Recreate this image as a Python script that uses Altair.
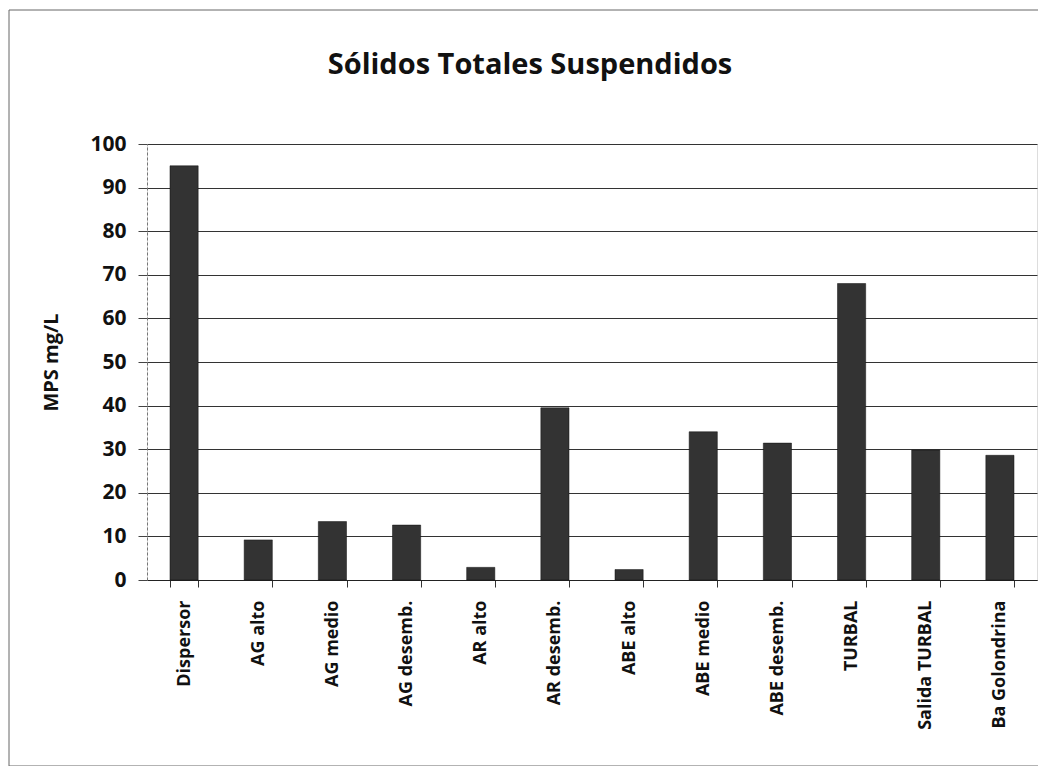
import altair as alt
import pandas as pd

categories = ["Dispersor", "AG alto", "AG medio", "AG desemb.", "AR alto", "AR desemb.",
              "ABE alto", "ABE medio", "ABE desemb.", "TURBAL", "Salida TURBAL", "Ba Golondrina"]
values = [95, 9.2, 13.4, 12.6, 2.9, 39.5, 2.4, 34, 31.4, 68, 29.8, 28.6]
y_ticks = [0, 10, 20, 30, 40, 50, 60, 70, 80, 90, 100]
title_text = ["Sólidos Totales Suspendidos"]

df = pd.DataFrame({"cat": categories, "val": values})
tdf = pd.DataFrame({"t": title_text})

FONT = "Open Sans"
W, H = 890, 436

bars = alt.Chart(df).mark_bar(color="#333333", stroke="#111111", strokeWidth=0.5).encode(
    x=alt.X("cat:N", sort=categories,
            scale=alt.Scale(paddingInner=0.62, paddingOuter=0.31),
            axis=alt.Axis(title=None, labelAngle=-90, labelAlign="right", labelBaseline="middle",
                          labelFont=FONT, labelFontSize=18, labelFontWeight="bold", labelColor="#111",
                          labelPadding=13, tickBand="extent", tickSize=7, tickColor="#333",
                          domainColor="#222", domainWidth=1.2, grid=False)),
    y=alt.Y("val:Q", scale=alt.Scale(domain=[0, 100], nice=False),
            axis=alt.Axis(title="MPS mg/L", values=y_ticks, titleFont=FONT, titleFontSize=20,
                          titleFontWeight="bold", titleColor="#111", titlePadding=28,
                          labelFont=FONT, labelFontSize=21, labelFontWeight="bold", labelColor="#111",
                          labelPadding=12, tickSize=9, tickColor="#444", domainColor="#777",
                          domainDash=[3, 2], grid=True, gridColor="#333", gridWidth=1)),
)

title = alt.Chart(tdf).mark_text(font=FONT, fontSize=29, fontWeight="bold", color="#111",
                                 align="center", baseline="middle").encode(
    text="t:N", x=alt.value(383), y=alt.value(-79))

frame = alt.Chart(tdf).mark_rect(fill="transparent", stroke="#666", strokeWidth=1).encode(
    x=alt.value(-138), x2=alt.value(W + 30), y=alt.value(-134), y2=alt.value(622))

chart = alt.layer(frame, title, bars).properties(
    width=W, height=H,
    autosize=alt.AutoSizeParams(type="none"),
    padding={"left": 139, "top": 136, "right": 1, "bottom": 186},
).configure_view(stroke=None).configure(background="white")

chart.save("out.html", embed_options={"renderer": "svg", "actions": False})
